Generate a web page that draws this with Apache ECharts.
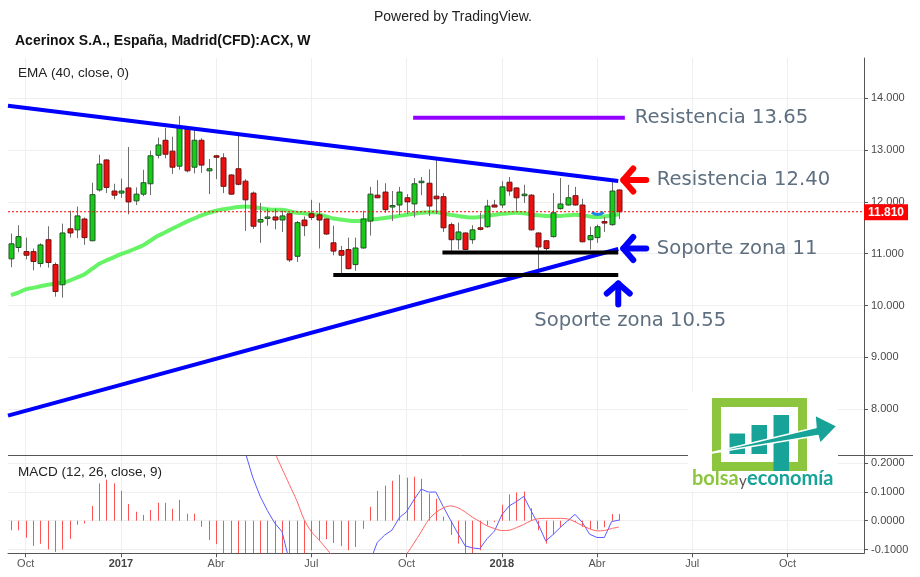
<!DOCTYPE html>
<html>
<head>
<meta charset="utf-8">
<script src="https://cdn.jsdelivr.net/npm/echarts@6/dist/echarts.min.js"></script>
<style>
  html, body { margin: 0; padding: 0; background: #fff; }
  #chart { width: 920px; height: 577px; }
</style>
</head>
<body>
<div id="chart"></div>
<script>
// Acerinox (ACX) weekly bars, first bar = week of 2016-09-19, x value = bar number
const opens  = [10.90,11.12,11.04,11.04,10.81,11.27,10.79,10.40,11.48,11.46,11.67,11.25,12.23,12.81,12.21,12.17,12.27,12.02,12.15,12.35,12.90,13.19,12.98,12.69,13.42,12.67,13.19,12.60,12.89,12.85,12.52,12.64,12.40,12.17,11.61,11.69,11.71,11.65,11.77,10.95,11.65,11.77,11.75,11.67,11.21,11.06,11.08,10.79,11.11,11.63,12.13,12.19,11.92,11.94,12.08,11.96,12.38,12.36,12.11,12.10,11.56,11.27,11.40,11.27,11.50,11.52,11.94,11.94,12.38,12.27,12.12,12.13,11.40,11.25,11.33,11.87,11.94,12.12,11.94,11.27,11.31,11.62,11.56,12.23];
const closes = [11.19,11.33,10.97,10.85,11.17,10.83,10.27,11.40,11.40,11.73,11.31,12.14,12.73,12.28,12.13,12.21,12.00,12.15,12.37,12.89,13.10,12.92,12.67,13.46,12.60,13.19,12.71,12.64,12.87,12.30,12.15,12.34,12.04,11.53,11.66,11.71,11.65,11.73,10.88,11.60,11.54,11.70,11.65,11.38,11.05,10.97,10.71,11.11,11.67,12.15,12.08,11.85,11.93,12.19,12.00,12.35,12.40,11.92,12.06,11.50,11.27,11.42,11.08,11.46,11.47,11.92,11.90,12.29,12.21,12.08,12.15,11.46,11.13,11.10,11.79,11.96,12.08,11.94,11.23,11.35,11.52,11.60,12.21,11.81];
const highs  = [11.39,11.55,11.31,11.10,11.20,11.53,10.83,11.58,11.83,11.91,11.70,12.37,12.91,12.82,12.35,12.45,13.06,12.28,12.62,12.99,13.24,13.43,13.26,13.66,13.44,13.43,13.23,12.83,12.91,12.94,12.53,13.28,12.44,12.20,11.98,11.87,11.87,11.83,11.78,11.63,11.72,12.04,11.98,11.68,11.54,11.15,11.31,11.31,11.83,12.29,12.42,12.36,12.21,12.29,12.15,12.46,12.48,12.63,12.83,12.17,11.60,11.60,11.41,11.55,11.79,12.04,12.04,12.40,12.48,12.28,12.33,12.15,11.41,11.26,12.17,12.46,12.33,12.29,12.06,11.52,11.56,11.71,12.38,12.24];
const lows   = [10.74,11.03,10.89,10.68,10.74,10.73,10.17,10.15,11.31,11.30,11.17,11.24,12.20,12.17,12.05,12.08,11.76,11.94,12.11,12.13,12.84,12.84,12.54,12.62,12.57,12.55,12.56,12.15,12.44,12.17,12.14,12.32,11.44,11.48,11.21,11.54,11.47,11.42,10.84,10.84,11.34,11.65,11.10,11.36,10.97,10.61,10.70,10.67,11.10,11.35,12.07,11.79,11.63,11.75,11.77,11.70,12.13,11.73,11.77,11.42,10.99,11.08,11.07,11.19,11.45,11.50,11.90,11.88,12.12,11.83,11.98,11.45,10.57,11.06,11.31,11.85,11.93,11.93,11.22,11.08,11.21,11.42,11.54,11.67];

// EMA (40, close)
const ema40 = [10.20,10.25,10.31,10.34,10.37,10.40,10.42,10.44,10.48,10.54,10.60,10.70,10.80,10.87,10.93,10.99,11.04,11.10,11.16,11.25,11.34,11.41,11.48,11.55,11.62,11.68,11.74,11.79,11.83,11.86,11.88,11.90,11.91,11.90,11.88,11.86,11.85,11.85,11.82,11.79,11.78,11.76,11.75,11.72,11.68,11.66,11.64,11.63,11.64,11.66,11.67,11.69,11.71,11.73,11.75,11.77,11.79,11.80,11.80,11.78,11.75,11.73,11.71,11.70,11.71,11.73,11.75,11.77,11.78,11.79,11.78,11.76,11.74,11.73,11.72,11.73,11.74,11.75,11.74,11.72,11.71,11.72,11.74,11.76];

// MACD (12, 26, close, 9)
const macdLine = [0.427,0.417,0.381,0.343,0.330,0.291,0.262,0.250,0.267,0.306,0.300,0.361,0.449,0.482,0.489,0.483,0.458,0.441,0.430,0.457,0.492,0.502,0.491,0.532,0.504,0.509,0.464,0.413,0.394,0.360,0.330,0.290,0.235,0.150,0.085,0.035,-0.008,-0.038,-0.140,-0.170,-0.170,-0.140,-0.132,-0.159,-0.202,-0.238,-0.272,-0.276,-0.218,-0.142,-0.075,-0.050,-0.033,0.010,0.031,0.072,0.109,0.099,0.099,0.049,0.002,-0.044,-0.087,-0.094,-0.097,-0.062,-0.036,0.020,0.051,0.066,0.084,0.034,-0.013,-0.070,-0.048,-0.023,0.000,0.022,-0.006,-0.047,-0.058,-0.058,-0.003,0.002];
const signalLine = [0.460,0.450,0.440,0.430,0.410,0.390,0.370,0.350,0.330,0.320,0.310,0.310,0.320,0.340,0.360,0.380,0.400,0.410,0.410,0.420,0.430,0.440,0.450,0.460,0.480,0.485,0.485,0.480,0.475,0.470,0.460,0.440,0.410,0.370,0.330,0.285,0.235,0.180,0.125,0.070,0.005,-0.038,-0.065,-0.095,-0.125,-0.150,-0.170,-0.185,-0.190,-0.190,-0.182,-0.171,-0.160,-0.140,-0.115,-0.078,-0.038,0.003,0.028,0.044,0.051,0.045,0.030,0.012,-0.003,-0.018,-0.027,-0.034,-0.033,-0.024,-0.013,0.000,0.007,0.008,0.008,0.008,0.006,-0.004,-0.017,-0.028,-0.035,-0.034,-0.027,-0.022];
const macdHist = [-0.033,-0.033,-0.059,-0.087,-0.080,-0.099,-0.108,-0.100,-0.063,-0.014,-0.010,0.051,0.129,0.142,0.129,0.103,0.058,0.031,0.020,0.037,0.062,0.062,0.041,0.072,0.024,0.024,-0.021,-0.067,-0.081,-0.120,-0.160,-0.180,-0.200,-0.220,-0.230,-0.220,-0.236,-0.218,-0.245,-0.240,-0.175,-0.102,-0.067,-0.064,-0.077,-0.088,-0.102,-0.091,-0.028,0.048,0.103,0.121,0.138,0.159,0.149,0.152,0.145,0.094,0.076,0.014,-0.049,-0.079,-0.118,-0.112,-0.102,-0.016,-0.005,0.055,0.091,0.098,0.101,0.043,-0.033,-0.079,-0.048,-0.023,0.003,-0.004,-0.021,-0.030,-0.030,-0.023,0.023,0.023];

// time scale: bar numbers of the first week of each quarter
const quarterWeeks  = [2, 15, 28, 41, 54, 67, 80, 93, 106];
const quarterLabels = ['Oct', '2017', 'Abr', 'Jul', 'Oct', '2018', 'Abr', 'Jul', 'Oct'];
const priceTicks = [8, 9, 10, 11, 12, 13, 14];
const macdTicks  = [-0.1, 0, 0.1, 0.2];
const lastPrice = 11.81;

// drawn levels and trend lines: [bar, price]
const upperTrend   = [[-0.41, 13.857], [82.9, 12.403]];
const lowerTrend   = [[-0.41, 7.873], [82.9, 11.091]];
const resistLevel  = [[54.9, 13.625], [83.8, 13.625]];
const supportUpper = [[58.9, 11.023], [82.9, 11.023]];
const supportLower = [[44.0, 10.589], [82.9, 10.589]];
const smallArc     = [[79.3, 11.80], [80.1, 11.755], [80.9, 11.80]];

const X_MIN = -0.41, X_MAX = 116.45;
const AXIS_FONT = "'Liberation Sans', Arial, sans-serif";
const GRID_COLOR = '#efefef';
const AXIS_COLOR = '#555';

const chart = echarts.init(document.getElementById('chart'), null, { renderer: 'canvas' });

function renderCandle(params, api) {
  const i = api.value(0);
  const o = api.value(1), c = api.value(2), l = api.value(3), h = api.value(4);
  const pO = api.coord([i, o]);
  const pC = api.coord([i, c]);
  const pL = api.coord([i, l]);
  const pH = api.coord([i, h]);
  const w = 5;
  const up = c >= o;
  const x = Math.round(pO[0]) + 0.5;
  const top = Math.min(pO[1], pC[1]);
  const bot = Math.max(pO[1], pC[1]);
  return {
    type: 'group',
    children: [
      { type: 'line', shape: { x1: x, y1: pH[1], x2: x, y2: pL[1] },
        style: { stroke: '#6e6e6e', lineWidth: 1 } },
      { type: 'rect', shape: { x: x - w / 2, y: top, width: w, height: Math.max(bot - top, 1.5) },
        style: { fill: up ? '#16cc16' : '#ec0f0f', stroke: up ? '#24512a' : '#6e1414', lineWidth: 1 } }
    ]
  };
}

function renderHist(params, api) {
  const i = api.value(0);
  const v = api.value(1);
  const p0 = api.coord([i, 0]);
  const p1 = api.coord([i, v]);
  const x = Math.round(p0[0]) + 0.5;
  return { type: 'line', shape: { x1: x, y1: p0[1], x2: x, y2: p1[1] },
    style: { stroke: '#ff5252', lineWidth: 1 } };
}

const xBase = {
  type: 'value', min: X_MIN, max: X_MAX,
  splitLine: { show: true, lineStyle: { color: GRID_COLOR, width: 1 } },
  axisTick: { customValues: quarterWeeks },
  axisLabel: { customValues: quarterWeeks }
};

const pts = arr => arr.map((v, i) => [i, v]);

chart.setOption({
  animation: false,
  backgroundColor: '#ffffff',
  grid: [
    { left: 8, right: 56, top: 58, height: 397.5 },
    { left: 8, right: 56, top: 455.5, height: 97.8 }
  ],
  xAxis: [
    Object.assign({}, xBase, {
      gridIndex: 0,
      axisLine: { show: false, onZero: false },
      axisTick: { show: false, customValues: quarterWeeks },
      axisLabel: { show: false, customValues: quarterWeeks }
    }),
    Object.assign({}, xBase, {
      gridIndex: 1,
      axisLine: { show: true, onZero: false, lineStyle: { color: AXIS_COLOR } },
      axisTick: { show: true, length: 4, customValues: quarterWeeks, lineStyle: { color: AXIS_COLOR } },
      axisLabel: {
        show: true, customValues: quarterWeeks, margin: 5,
        fontFamily: AXIS_FONT, fontSize: 11, color: '#555',
        formatter: v => {
          const k = quarterWeeks.indexOf(Math.round(v));
          const t = k >= 0 ? quarterLabels[k] : '';
          return /^\d{4}$/.test(t) ? '{y|' + t + '}' : t;
        },
        rich: { y: { fontFamily: AXIS_FONT, fontSize: 11, fontWeight: 'bold', color: '#444' } }
      }
    })
  ],
  yAxis: [
    {
      type: 'value', gridIndex: 0, position: 'right', min: 7.104, max: 14.778,
      axisLine: { show: true, onZero: false, lineStyle: { color: AXIS_COLOR } },
      axisTick: { show: true, length: 4, customValues: priceTicks, lineStyle: { color: AXIS_COLOR } },
      axisLabel: { customValues: priceTicks, margin: 7, fontFamily: AXIS_FONT, fontSize: 11, color: '#4a4a4a',
        formatter: v => v.toFixed(3) },
      splitLine: { show: true, lineStyle: { color: GRID_COLOR } }
    },
    {
      type: 'value', gridIndex: 1, position: 'right', min: -0.1127, max: 0.2254,
      axisLine: { show: true, onZero: false, lineStyle: { color: AXIS_COLOR } },
      axisTick: { show: true, length: 4, customValues: macdTicks, lineStyle: { color: AXIS_COLOR } },
      axisLabel: { customValues: macdTicks, margin: 7, fontFamily: AXIS_FONT, fontSize: 11, color: '#4a4a4a',
        formatter: v => v.toFixed(4) },
      splitLine: { show: true, lineStyle: { color: GRID_COLOR } }
    }
  ],
  series: [
    {
      name: 'EMA', type: 'line', xAxisIndex: 0, yAxisIndex: 0, z: 2,
      data: pts(ema40), symbol: 'none', smooth: 0.3,
      lineStyle: { color: '#5ef25e', width: 4, opacity: 0.95 }
    },
    {
      name: 'ACX', type: 'custom', xAxisIndex: 0, yAxisIndex: 0, z: 3,
      renderItem: renderCandle, clip: true,
      encode: { x: 0, y: [1, 2, 3, 4] },
      data: opens.map((o, i) => [i, o, closes[i], lows[i], highs[i]])
    },
    {
      name: 'Último', type: 'line', xAxisIndex: 0, yAxisIndex: 0, z: 5,
      data: [[X_MIN, lastPrice], [X_MAX, lastPrice]], symbol: 'none',
      lineStyle: { color: '#ff0000', width: 1, type: [2, 2] }
    },
    { type: 'line', xAxisIndex: 0, yAxisIndex: 0, z: 4, data: upperTrend, symbol: 'none',
      lineStyle: { color: '#0000ff', width: 4 } },
    { type: 'line', xAxisIndex: 0, yAxisIndex: 0, z: 4, data: lowerTrend, symbol: 'none',
      lineStyle: { color: '#0000ff', width: 4 } },
    { type: 'line', xAxisIndex: 0, yAxisIndex: 0, z: 4, data: resistLevel, symbol: 'none',
      lineStyle: { color: '#9400ff', width: 4 } },
    { type: 'line', xAxisIndex: 0, yAxisIndex: 0, z: 4, data: supportUpper, symbol: 'none',
      lineStyle: { color: '#000000', width: 4 } },
    { type: 'line', xAxisIndex: 0, yAxisIndex: 0, z: 4, data: supportLower, symbol: 'none',
      lineStyle: { color: '#000000', width: 4 } },
    { type: 'line', xAxisIndex: 0, yAxisIndex: 0, z: 4, data: smallArc, symbol: 'none', smooth: true,
      lineStyle: { color: '#1e88e5', width: 3 } },
    {
      name: 'Histogram', type: 'custom', xAxisIndex: 1, yAxisIndex: 1, z: 2,
      renderItem: renderHist, clip: true, encode: { x: 0, y: 1 },
      data: pts(macdHist)
    },
    { name: 'MACD', type: 'line', xAxisIndex: 1, yAxisIndex: 1, z: 3, data: pts(macdLine),
      symbol: 'none', lineStyle: { color: '#5a5aff', width: 1 } },
    { name: 'Signal', type: 'line', xAxisIndex: 1, yAxisIndex: 1, z: 3, data: pts(signalLine),
      symbol: 'none', smooth: 0.3, lineStyle: { color: '#ff6464', width: 1 } }
  ]
});

// annotations anchored to the ends of the drawn lines
const toPx = p => chart.convertToPixel({ xAxisIndex: 0, yAxisIndex: 0 }, p);
const aRes = toPx(upperTrend[1]);
const aSup = toPx(lowerTrend[1]);
const aLow = toPx(supportLower[1]);
const aPur = toPx(resistLevel[1]);
const aLast = toPx([X_MAX, lastPrice]);

const NOTE_FONT = "'DejaVu Sans', Verdana, sans-serif";
const NOTE_COLOR = '#5e6f80';

function arrowLeft(tip, color) {
  const [x, y] = tip;
  return [
    { type: 'polyline', z: 60, shape: { points: [[x + 10, y - 11.5], [x, y], [x + 10, y + 11.5]] },
      style: { stroke: color, lineWidth: 6, lineCap: 'round', lineJoin: 'round', fill: null } },
    { type: 'line', z: 60, shape: { x1: x, y1: y, x2: x + 23, y2: y },
      style: { stroke: color, lineWidth: 6, lineCap: 'round' } }
  ];
}
function arrowUp(tip, color) {
  const [x, y] = tip;
  return [
    { type: 'polyline', z: 60, shape: { points: [[x - 11.5, y + 10], [x, y], [x + 11.5, y + 10]] },
      style: { stroke: color, lineWidth: 6, lineCap: 'round', lineJoin: 'round', fill: null } },
    { type: 'line', z: 60, shape: { x1: x, y1: y, x2: x, y2: y + 21 },
      style: { stroke: color, lineWidth: 6, lineCap: 'round' } }
  ];
}
function note(text, x, y, align) {
  return { type: 'text', z: 60, x: x, y: y,
    style: { text: text, fill: NOTE_COLOR, font: '19.6px ' + NOTE_FONT, textAlign: align || 'left', textVerticalAlign: 'middle' } };
}
function plain(text, x, y, font, color) {
  return { type: 'text', z: 60, x: x, y: y,
    style: { text: text, fill: color || '#222', font: font, textVerticalAlign: 'middle' } };
}

const logo = [
  { type: 'rect', z: 100, shape: { x: 688, y: 392, width: 150, height: 99 }, style: { fill: '#ffffff' } },
  { type: 'rect', z: 101, shape: { x: 716.5, y: 402.5, width: 86, height: 64 },
    style: { fill: null, stroke: '#8cc63f', lineWidth: 9 } },
  { type: 'rect', z: 102, shape: { x: 729.5, y: 433.5, width: 15.5, height: 20.5 }, style: { fill: '#17a398' } },
  { type: 'rect', z: 102, shape: { x: 751.5, y: 425, width: 15.5, height: 29 }, style: { fill: '#17a398' } },
  { type: 'rect', z: 102, shape: { x: 773.5, y: 415, width: 15.5, height: 56 }, style: { fill: '#17a398' } },
  { type: 'polygon', z: 103,
    shape: { points: [[706, 454], [816, 427.5], [815, 415], [837, 426], [820, 443.5], [818, 435.5]] },
    style: { fill: '#17a398', stroke: '#ffffff', lineWidth: 1.5, lineJoin: 'round' } },
  { type: 'text', z: 103, x: 692, y: 489,
    style: { text: 'bolsa', fill: '#8cc63f', font: 'bold 20px Lato, sans-serif', textVerticalAlign: 'bottom' } },
  { type: 'text', z: 103, x: 739, y: 489,
    style: { text: 'y', fill: '#555555', font: '15px Lato, sans-serif', textVerticalAlign: 'bottom' } },
  { type: 'text', z: 103, x: 747, y: 489,
    style: { text: 'economía', fill: '#17a398', font: 'bold 20px Lato, sans-serif', textVerticalAlign: 'bottom' } }
];

chart.setOption({
  graphic: [
    plain('Powered by TradingView.', 374, 17, '14px ' + AXIS_FONT, '#222'),
    plain('Acerinox S.A., España, Madrid(CFD):ACX, W', 15, 41, 'bold 14px ' + AXIS_FONT, '#111'),
    plain('EMA (40, close, 0)', 18, 73, '13.5px ' + AXIS_FONT, '#222'),
    plain('MACD (12, 26, close, 9)', 18, 472, '13.5px ' + AXIS_FONT, '#222'),
    { type: 'line', z: 50, shape: { x1: 8, y1: 455.5, x2: 913, y2: 455.5 },
      style: { stroke: AXIS_COLOR, lineWidth: 1 } },
    { type: 'rect', z: 50, shape: { x: 865, y: 554, width: 55, height: 23 }, style: { fill: '#ffffff' } },
    // last price tag on the price scale
    { type: 'text', z: 70, x: aLast[0], y: aLast[1] + 0.5,
      style: { text: lastPrice.toFixed(3), fill: '#ffffff', font: 'bold 12px ' + AXIS_FONT,
        backgroundColor: '#ff0000', padding: [2, 4, 2, 4], textVerticalAlign: 'middle' } },
    ...arrowLeft([aRes[0] + 5, aRes[1] - 1], '#ff0000'),
    ...arrowLeft([aSup[0] + 5, aSup[1] - 0.5], '#0000ff'),
    ...arrowUp([aLow[0], aLow[1] + 8.5], '#0000ff'),
    note('Resistencia 13.65', aPur[0] + 10, aPur[1]),
    note('Resistencia 12.40', aRes[0] + 38.5, aRes[1] - 1),
    note('Soporte zona 11', aSup[0] + 38.5, aSup[1] - 0.5),
    note('Soporte zona 10.55', aLow[0] + 12, aLow[1] + 45.5, 'center'),
    ...logo
  ]
});
</script>
</body>
</html>
